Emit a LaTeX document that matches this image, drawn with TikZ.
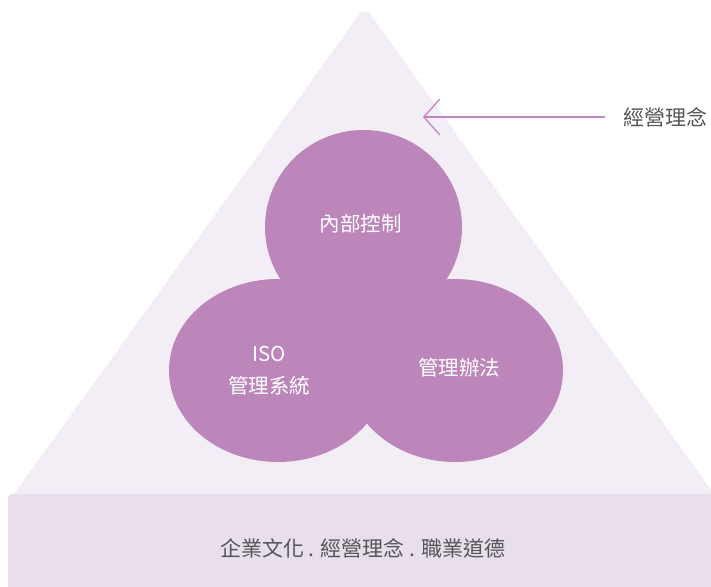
\documentclass[tikz,border=0pt]{standalone}
\usepackage{fontspec}
\setmainfont{Noto Sans CJK TC}
\usetikzlibrary{arrows.meta}
\definecolor{pyramid}{HTML}{F3EDF6}
\definecolor{basebox}{HTML}{E8DEEC}
\definecolor{bubble}{HTML}{BC86BB}
\definecolor{pointer}{HTML}{C585C4}
\definecolor{caption}{HTML}{555555}
\begin{document}
\begin{tikzpicture}[x=1pt,y=-1pt,
    inlabel/.style={text=white,font=\fontsize{20.5}{32}\selectfont,align=center},
    outlabel/.style={text=caption,font=\fontsize{21}{24}\selectfont}]
  \useasboundingbox (0,0) rectangle (711,586);
  % pyramid and base
  \fill[pyramid] (14,494) -- (361,12) -- (369,12) -- (714,494) -- cycle;
  \fill[basebox,rounded corners=4pt] (8,494) rectangle (716,590);
  % three circles
  \fill[bubble] (363.5,227) ellipse [x radius=98.5, y radius=97];
  \fill[bubble] (278,370.5) ellipse [x radius=109, y radius=91.5];
  \fill[bubble] (455,370.5) ellipse [x radius=108, y radius=91.5];
  \draw
    (360.5,224) node[inlabel] (ctrl){內部控制}
    (269,371) node[inlabel] (iso){ISO\\管理系統}
    (459,368) node[inlabel] (rule){管理辦法}
    (363,548) node[outlabel] (base){企業文化 . 經營理念 . 職業道德}
    (665,117) node[outlabel] (idea){經營理念};
  \coordinate (tip) at (423,117);
  \begin{scope}[pointer,line width=1.3pt]
    \draw[-{Straight Barb[length=16pt,width=36pt]}] (idea.west) ++(-14,0) -- (tip);
  \end{scope}
\end{tikzpicture}
\end{document}
